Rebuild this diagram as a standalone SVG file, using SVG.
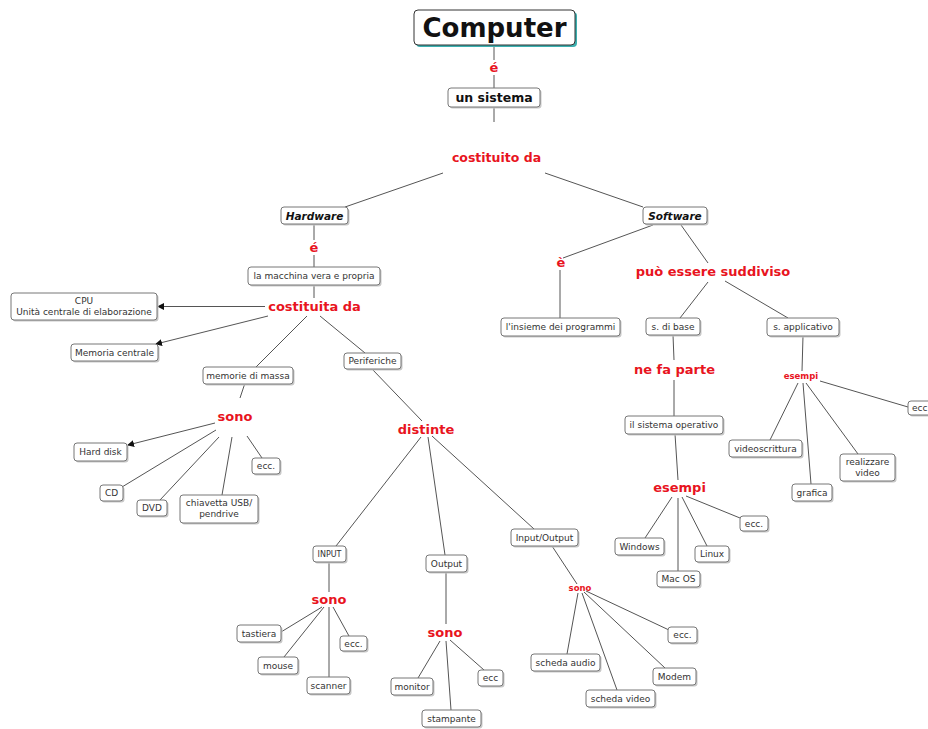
<svg xmlns="http://www.w3.org/2000/svg" width="928" height="729" viewBox="0 0 928 729">
<style>
.sh{fill:#c8c8c8}
.bx{fill:#fff;stroke:#777;stroke-width:1}
.t{font-family:"DejaVu Sans",Verdana,sans-serif;font-size:9px;fill:#333;text-anchor:middle}
.b{font-weight:bold;fill:#111}
.bi{font-weight:bold;font-style:italic;fill:#111;font-size:10.5px}
.lk{font-family:"DejaVu Sans",Verdana,sans-serif;font-weight:bold;fill:#e8141e;text-anchor:middle;font-size:13px}
.sm{font-size:8.5px}
#links line{stroke:#555;stroke-width:1}
</style>
<defs>
<marker id="ah" markerWidth="7" markerHeight="7" refX="6" refY="3.5" orient="auto" markerUnits="userSpaceOnUse">
<path d="M0,0 L7,3.5 L0,7 Z" fill="#111"/>
</marker>
</defs>
<rect width="928" height="729" fill="#fff"/>
<g id="links">
<line x1="494" y1="45" x2="494" y2="60"/>
<line x1="494" y1="75" x2="494" y2="88"/>
<line x1="494" y1="107" x2="494" y2="122"/>
<line x1="443" y1="173" x2="345" y2="207"/>
<line x1="545" y1="173" x2="643" y2="207"/>
<line x1="314" y1="224" x2="314" y2="240"/>
<line x1="314" y1="255" x2="314" y2="267"/>
<line x1="314" y1="285" x2="314" y2="298"/>
<line x1="265" y1="306.5" x2="158" y2="306.5" marker-end="url(#ah)"/>
<line x1="268" y1="316" x2="156" y2="344" marker-end="url(#ah)"/>
<line x1="307" y1="316" x2="256" y2="367"/>
<line x1="320" y1="316" x2="365" y2="353"/>
<line x1="245" y1="383" x2="240" y2="398"/>
<line x1="215" y1="423" x2="128" y2="445" marker-end="url(#ah)"/>
<line x1="216" y1="430" x2="122" y2="487"/>
<line x1="219" y1="437" x2="160" y2="500"/>
<line x1="232" y1="437" x2="222" y2="495"/>
<line x1="247" y1="436" x2="262" y2="458"/>
<line x1="372" y1="369" x2="422" y2="421"/>
<line x1="421" y1="437" x2="336" y2="546"/>
<line x1="428" y1="437" x2="445" y2="555"/>
<line x1="432" y1="436" x2="534" y2="529"/>
<line x1="329" y1="562" x2="329" y2="592"/>
<line x1="322" y1="607" x2="281" y2="632"/>
<line x1="324" y1="607" x2="284" y2="657"/>
<line x1="329" y1="607" x2="329" y2="677"/>
<line x1="333" y1="607" x2="349" y2="636"/>
<line x1="446" y1="572" x2="446" y2="624"/>
<line x1="440" y1="641" x2="418" y2="678"/>
<line x1="446" y1="641" x2="451" y2="710"/>
<line x1="450" y1="640" x2="484" y2="670"/>
<line x1="552" y1="546" x2="577" y2="584"/>
<line x1="578" y1="593" x2="567" y2="654"/>
<line x1="582" y1="593" x2="617" y2="690"/>
<line x1="584" y1="592" x2="665" y2="668"/>
<line x1="586" y1="591" x2="669" y2="630"/>
<line x1="653" y1="225" x2="563" y2="258"/>
<line x1="560" y1="270" x2="560" y2="318"/>
<line x1="681" y1="225" x2="708" y2="263"/>
<line x1="708" y1="282" x2="680" y2="318"/>
<line x1="725" y1="281" x2="788" y2="318"/>
<line x1="673" y1="335" x2="674" y2="360"/>
<line x1="674" y1="380" x2="674" y2="416"/>
<line x1="675" y1="434" x2="678" y2="480"/>
<line x1="672" y1="497" x2="645" y2="538"/>
<line x1="678" y1="498" x2="678" y2="571"/>
<line x1="682" y1="497" x2="707" y2="546"/>
<line x1="686" y1="496" x2="740" y2="518"/>
<line x1="803" y1="336" x2="802" y2="371"/>
<line x1="798" y1="383" x2="770" y2="440"/>
<line x1="803" y1="383" x2="811" y2="484"/>
<line x1="806" y1="383" x2="858" y2="454"/>
<line x1="820" y1="381" x2="908" y2="407"/>
</g>
<g id="labels">
<text class="lk" x="494" y="72">é</text>
<text class="lk" x="496.5" y="162" style="font-size:12.5px">costituito da</text>
<text class="lk" x="314" y="252">é</text>
<text class="lk" x="314.5" y="311">costituita da</text>
<text class="lk" x="235" y="421">sono</text>
<text class="lk" x="426" y="434">distinte</text>
<text class="lk" x="329" y="604">sono</text>
<text class="lk" x="445" y="637">sono</text>
<text class="lk sm" x="580" y="591">sono</text>
<text class="lk" x="561" y="267">è</text>
<text class="lk" x="713" y="276">può essere suddiviso</text>
<text class="lk" x="674.5" y="374">ne fa parte</text>
<text class="lk" x="679.5" y="492">esempi</text>
<text class="lk sm" x="801" y="379">esempi</text>
</g>
<g id="computer"><rect x="416" y="12" width="161" height="35" rx="4" fill="#3bb0b0"/><rect class="bx" x="414" y="10" width="161" height="35" rx="4" style="stroke:#333"/><text class="t b" x="494.5" y="37" style="font-size:26px">Computer</text></g>
<g id="un-sistema"><rect class="sh" x="449.5" y="89.5" width="92" height="19" rx="3"/><rect class="bx" x="448" y="88" width="92" height="19" rx="3"/><text class="t b" x="494" y="102" style="font-size:12.5px">un sistema</text></g>
<g id="hardware"><rect class="sh" x="282.5" y="208.5" width="67" height="17" rx="3"/><rect class="bx" x="281" y="207" width="67" height="17" rx="3"/><text class="t bi" x="314.5" y="219.5">Hardware</text></g>
<g id="software"><rect class="sh" x="644.5" y="208.5" width="64" height="17" rx="3"/><rect class="bx" x="643" y="207" width="64" height="17" rx="3"/><text class="t bi" x="675" y="219.5">Software</text></g>
<g id="macchina"><rect class="sh" x="249.5" y="268.5" width="132" height="18" rx="3"/><rect class="bx" x="248" y="267" width="132" height="18" rx="3"/><text class="t" x="314" y="279">la macchina vera e propria</text></g>
<g id="cpu"><rect class="sh" x="12.5" y="294.5" width="146" height="27" rx="3"/><rect class="bx" x="11" y="293" width="146" height="27" rx="3"/><text class="t" x="84" y="304">CPU</text><text class="t" x="84" y="315">Unità centrale di elaborazione</text></g>
<g id="memoria-centrale"><rect class="sh" x="72.5" y="345.5" width="87" height="17" rx="3"/><rect class="bx" x="71" y="344" width="87" height="17" rx="3"/><text class="t" x="114.5" y="355.5">Memoria centrale</text></g>
<g id="memorie-massa"><rect class="sh" x="204.5" y="368.5" width="90" height="17" rx="3"/><rect class="bx" x="203" y="367" width="90" height="17" rx="3"/><text class="t" x="248" y="378.5">memorie di massa</text></g>
<g id="periferiche"><rect class="sh" x="345.5" y="354.5" width="57" height="16" rx="3"/><rect class="bx" x="344" y="353" width="57" height="16" rx="3"/><text class="t" x="372.5" y="364">Periferiche</text></g>
<g id="hard-disk"><rect class="sh" x="75.5" y="444.5" width="53" height="18" rx="3"/><rect class="bx" x="74" y="443" width="53" height="18" rx="3"/><text class="t" x="100.5" y="455">Hard disk</text></g>
<g id="cd"><rect class="sh" x="101.5" y="486.5" width="23" height="16" rx="3"/><rect class="bx" x="100" y="485" width="23" height="16" rx="3"/><text class="t" x="111.5" y="496">CD</text></g>
<g id="dvd"><rect class="sh" x="138.5" y="501.5" width="30" height="16" rx="3"/><rect class="bx" x="137" y="500" width="30" height="16" rx="3"/><text class="t" x="152" y="511">DVD</text></g>
<g id="chiavetta"><rect class="sh" x="181.5" y="496.5" width="78" height="28" rx="3"/><rect class="bx" x="180" y="495" width="78" height="28" rx="3"/><text class="t" x="219" y="506">chiavetta USB/</text><text class="t" x="219" y="517">pendrive</text></g>
<g id="ecc-massa"><rect class="sh" x="253.5" y="459.5" width="28" height="16" rx="3"/><rect class="bx" x="252" y="458" width="28" height="16" rx="3"/><text class="t" x="266" y="469">ecc.</text></g>
<g id="input"><rect class="sh" x="314.5" y="547.5" width="33" height="16" rx="3"/><rect class="bx" x="313" y="546" width="33" height="16" rx="3"/><text class="t" x="329.5" y="557" style="font-size:8px">INPUT</text></g>
<g id="output"><rect class="sh" x="427.5" y="556.5" width="41" height="17" rx="3"/><rect class="bx" x="426" y="555" width="41" height="17" rx="3"/><text class="t" x="446.5" y="566.5">Output</text></g>
<g id="input-output"><rect class="sh" x="512.5" y="530.5" width="67" height="17" rx="3"/><rect class="bx" x="511" y="529" width="67" height="17" rx="3"/><text class="t" x="544.5" y="540.5">Input/Output</text></g>
<g id="tastiera"><rect class="sh" x="238.5" y="626.5" width="44" height="17" rx="3"/><rect class="bx" x="237" y="625" width="44" height="17" rx="3"/><text class="t" x="259" y="636.5">tastiera</text></g>
<g id="mouse"><rect class="sh" x="259.5" y="658.5" width="40" height="17" rx="3"/><rect class="bx" x="258" y="657" width="40" height="17" rx="3"/><text class="t" x="278" y="668.5">mouse</text></g>
<g id="scanner"><rect class="sh" x="308.5" y="678.5" width="43" height="17" rx="3"/><rect class="bx" x="307" y="677" width="43" height="17" rx="3"/><text class="t" x="328.5" y="688.5">scanner</text></g>
<g id="ecc-input"><rect class="sh" x="341.5" y="637.5" width="27" height="15" rx="3"/><rect class="bx" x="340" y="636" width="27" height="15" rx="3"/><text class="t" x="353.5" y="646.5">ecc.</text></g>
<g id="monitor"><rect class="sh" x="392.5" y="679.5" width="42" height="17" rx="3"/><rect class="bx" x="391" y="678" width="42" height="17" rx="3"/><text class="t" x="412" y="689.5">monitor</text></g>
<g id="stampante"><rect class="sh" x="423.5" y="711.5" width="59" height="17" rx="3"/><rect class="bx" x="422" y="710" width="59" height="17" rx="3"/><text class="t" x="451.5" y="721.5">stampante</text></g>
<g id="ecc-output"><rect class="sh" x="479.5" y="671.5" width="25" height="16" rx="3"/><rect class="bx" x="478" y="670" width="25" height="16" rx="3"/><text class="t" x="490.5" y="681">ecc</text></g>
<g id="scheda-audio"><rect class="sh" x="532.5" y="655.5" width="69" height="17" rx="3"/><rect class="bx" x="531" y="654" width="69" height="17" rx="3"/><text class="t" x="565.5" y="665.5">scheda audio</text></g>
<g id="scheda-video"><rect class="sh" x="587.5" y="691.5" width="69" height="17" rx="3"/><rect class="bx" x="586" y="690" width="69" height="17" rx="3"/><text class="t" x="620.5" y="701.5">scheda video</text></g>
<g id="modem"><rect class="sh" x="654.5" y="669.5" width="43" height="17" rx="3"/><rect class="bx" x="653" y="668" width="43" height="17" rx="3"/><text class="t" x="674.5" y="679.5">Modem</text></g>
<g id="ecc-io"><rect class="sh" x="669.5" y="628.5" width="29" height="16" rx="3"/><rect class="bx" x="668" y="627" width="29" height="16" rx="3"/><text class="t" x="682.5" y="638">ecc.</text></g>
<g id="insieme"><rect class="sh" x="502.5" y="319.5" width="119" height="18" rx="3"/><rect class="bx" x="501" y="318" width="119" height="18" rx="3"/><text class="t" x="560.5" y="330">l'insieme dei programmi</text></g>
<g id="s-di-base"><rect class="sh" x="647.5" y="319.5" width="54" height="17" rx="3"/><rect class="bx" x="646" y="318" width="54" height="17" rx="3"/><text class="t" x="673" y="329.5">s. di base</text></g>
<g id="s-applicativo"><rect class="sh" x="768.5" y="319.5" width="72" height="18" rx="3"/><rect class="bx" x="767" y="318" width="72" height="18" rx="3"/><text class="t" x="803" y="330">s. applicativo</text></g>
<g id="sistema-operativo"><rect class="sh" x="626.5" y="417.5" width="98" height="18" rx="3"/><rect class="bx" x="625" y="416" width="98" height="18" rx="3"/><text class="t" x="674" y="428">il sistema operativo</text></g>
<g id="windows"><rect class="sh" x="616.5" y="539.5" width="49" height="17" rx="3"/><rect class="bx" x="615" y="538" width="49" height="17" rx="3"/><text class="t" x="639.5" y="549.5">Windows</text></g>
<g id="mac-os"><rect class="sh" x="658.5" y="572.5" width="43" height="16" rx="3"/><rect class="bx" x="657" y="571" width="43" height="16" rx="3"/><text class="t" x="678.5" y="582">Mac OS</text></g>
<g id="linux"><rect class="sh" x="696.5" y="547.5" width="34" height="16" rx="3"/><rect class="bx" x="695" y="546" width="34" height="16" rx="3"/><text class="t" x="712" y="557">Linux</text></g>
<g id="ecc-os"><rect class="sh" x="741.5" y="517.5" width="28" height="15" rx="3"/><rect class="bx" x="740" y="516" width="28" height="15" rx="3"/><text class="t" x="754" y="526.5">ecc.</text></g>
<g id="videoscrittura"><rect class="sh" x="730.5" y="441.5" width="73" height="17" rx="3"/><rect class="bx" x="729" y="440" width="73" height="17" rx="3"/><text class="t" x="765.5" y="451.5">videoscrittura</text></g>
<g id="grafica"><rect class="sh" x="793.5" y="485.5" width="40" height="17" rx="3"/><rect class="bx" x="792" y="484" width="40" height="17" rx="3"/><text class="t" x="812" y="495.5">grafica</text></g>
<g id="realizzare-video"><rect class="sh" x="841.5" y="455.5" width="55" height="27" rx="3"/><rect class="bx" x="840" y="454" width="55" height="27" rx="3"/><text class="t" x="867.5" y="465">realizzare</text><text class="t" x="867.5" y="476">video</text></g>
<g id="ecc-app"><rect class="sh" x="909.5" y="402.5" width="30" height="14" rx="3"/><rect class="bx" x="908" y="401" width="30" height="14" rx="3"/><text class="t" x="912" y="411" style="text-anchor:start">ecc</text></g>
</svg>
